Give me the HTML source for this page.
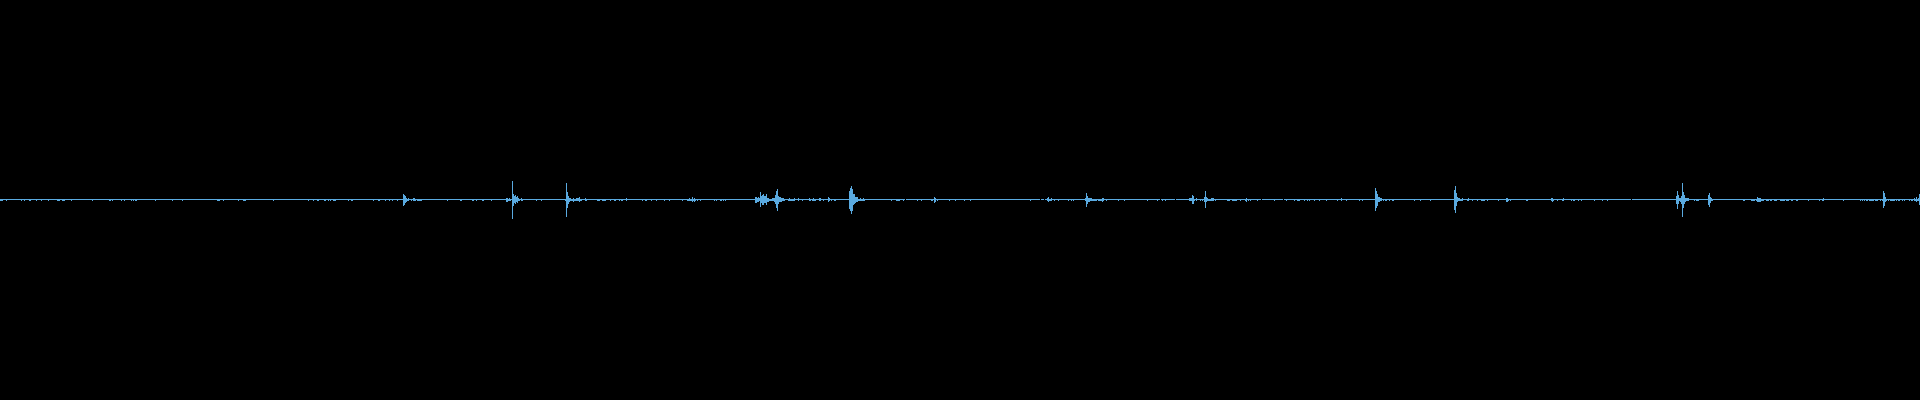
<!DOCTYPE html>
<html><head><meta charset="utf-8"><style>
html,body{margin:0;padding:0;background:#000;width:1920px;height:400px;overflow:hidden}
svg{display:block}
</style></head><body>
<svg width="1920" height="400" viewBox="0 0 1920 400" shape-rendering="crispEdges">
<g fill="#5aaae0">
<rect x="0" y="199" width="3" height="2"/>
<rect x="3" y="199" width="3" height="1"/>
<rect x="6" y="199" width="1" height="2"/>
<rect x="7" y="199" width="14" height="1"/>
<rect x="21" y="199" width="1" height="2"/>
<rect x="22" y="199" width="2" height="1"/>
<rect x="24" y="199" width="1" height="2"/>
<rect x="25" y="199" width="4" height="1"/>
<rect x="29" y="199" width="2" height="2"/>
<rect x="31" y="199" width="5" height="1"/>
<rect x="36" y="199" width="1" height="2"/>
<rect x="37" y="199" width="4" height="1"/>
<rect x="41" y="199" width="1" height="2"/>
<rect x="42" y="199" width="6" height="1"/>
<rect x="48" y="199" width="1" height="2"/>
<rect x="49" y="199" width="8" height="1"/>
<rect x="57" y="199" width="3" height="2"/>
<rect x="60" y="199" width="2" height="1"/>
<rect x="62" y="199" width="3" height="2"/>
<rect x="65" y="199" width="6" height="1"/>
<rect x="71" y="199" width="1" height="2"/>
<rect x="72" y="199" width="20" height="1"/>
<rect x="92" y="199" width="1" height="2"/>
<rect x="93" y="199" width="16" height="1"/>
<rect x="109" y="199" width="2" height="2"/>
<rect x="111" y="199" width="1" height="1"/>
<rect x="112" y="199" width="1" height="2"/>
<rect x="113" y="199" width="8" height="1"/>
<rect x="121" y="199" width="1" height="2"/>
<rect x="122" y="199" width="2" height="1"/>
<rect x="124" y="199" width="1" height="2"/>
<rect x="125" y="199" width="6" height="1"/>
<rect x="131" y="199" width="1" height="2"/>
<rect x="132" y="199" width="1" height="1"/>
<rect x="133" y="199" width="1" height="2"/>
<rect x="134" y="199" width="1" height="1"/>
<rect x="135" y="199" width="2" height="2"/>
<rect x="137" y="199" width="18" height="1"/>
<rect x="155" y="199" width="1" height="2"/>
<rect x="156" y="199" width="16" height="1"/>
<rect x="172" y="199" width="1" height="2"/>
<rect x="173" y="199" width="9" height="1"/>
<rect x="182" y="199" width="1" height="2"/>
<rect x="183" y="199" width="34" height="1"/>
<rect x="217" y="199" width="3" height="2"/>
<rect x="220" y="199" width="3" height="1"/>
<rect x="223" y="199" width="1" height="2"/>
<rect x="224" y="199" width="14" height="1"/>
<rect x="238" y="199" width="1" height="2"/>
<rect x="239" y="199" width="4" height="1"/>
<rect x="243" y="199" width="3" height="2"/>
<rect x="246" y="199" width="27" height="1"/>
<rect x="273" y="199" width="1" height="2"/>
<rect x="274" y="199" width="34" height="1"/>
<rect x="308" y="199" width="1" height="2"/>
<rect x="309" y="199" width="4" height="1"/>
<rect x="313" y="199" width="1" height="2"/>
<rect x="314" y="199" width="3" height="1"/>
<rect x="317" y="199" width="2" height="2"/>
<rect x="319" y="199" width="5" height="1"/>
<rect x="324" y="199" width="2" height="2"/>
<rect x="326" y="199" width="2" height="1"/>
<rect x="328" y="199" width="1" height="2"/>
<rect x="329" y="199" width="1" height="1"/>
<rect x="330" y="199" width="1" height="2"/>
<rect x="331" y="199" width="2" height="1"/>
<rect x="333" y="199" width="3" height="2"/>
<rect x="336" y="199" width="12" height="1"/>
<rect x="348" y="199" width="1" height="2"/>
<rect x="349" y="199" width="2" height="1"/>
<rect x="351" y="199" width="2" height="2"/>
<rect x="353" y="199" width="20" height="1"/>
<rect x="373" y="199" width="1" height="2"/>
<rect x="374" y="199" width="4" height="1"/>
<rect x="378" y="199" width="2" height="2"/>
<rect x="380" y="199" width="5" height="1"/>
<rect x="385" y="199" width="1" height="2"/>
<rect x="386" y="199" width="3" height="1"/>
<rect x="389" y="199" width="1" height="2"/>
<rect x="390" y="199" width="2" height="1"/>
<rect x="392" y="199" width="1" height="2"/>
<rect x="393" y="199" width="4" height="1"/>
<rect x="397" y="199" width="1" height="2"/>
<rect x="398" y="199" width="5" height="1"/>
<rect x="403" y="194" width="1" height="12"/>
<rect x="404" y="195" width="1" height="10"/>
<rect x="405" y="196" width="1" height="7"/>
<rect x="406" y="198" width="1" height="4"/>
<rect x="407" y="199" width="1" height="2"/>
<rect x="408" y="198" width="1" height="3"/>
<rect x="409" y="199" width="2" height="1"/>
<rect x="411" y="199" width="1" height="2"/>
<rect x="412" y="199" width="1" height="1"/>
<rect x="413" y="198" width="2" height="3"/>
<rect x="415" y="199" width="1" height="2"/>
<rect x="416" y="199" width="1" height="1"/>
<rect x="417" y="199" width="5" height="2"/>
<rect x="422" y="199" width="25" height="1"/>
<rect x="447" y="199" width="1" height="2"/>
<rect x="448" y="199" width="12" height="1"/>
<rect x="460" y="199" width="2" height="2"/>
<rect x="462" y="199" width="10" height="1"/>
<rect x="472" y="199" width="2" height="2"/>
<rect x="474" y="199" width="2" height="1"/>
<rect x="476" y="199" width="1" height="2"/>
<rect x="477" y="199" width="5" height="1"/>
<rect x="482" y="199" width="2" height="2"/>
<rect x="484" y="199" width="7" height="1"/>
<rect x="491" y="199" width="1" height="2"/>
<rect x="492" y="199" width="14" height="1"/>
<rect x="506" y="198" width="2" height="4"/>
<rect x="508" y="199" width="1" height="2"/>
<rect x="509" y="198" width="1" height="3"/>
<rect x="510" y="199" width="1" height="2"/>
<rect x="511" y="199" width="1" height="1"/>
<rect x="512" y="181" width="1" height="38"/>
<rect x="513" y="194" width="1" height="12"/>
<rect x="514" y="196" width="1" height="7"/>
<rect x="515" y="195" width="1" height="9"/>
<rect x="516" y="197" width="1" height="5"/>
<rect x="517" y="196" width="1" height="7"/>
<rect x="518" y="198" width="1" height="3"/>
<rect x="519" y="199" width="1" height="2"/>
<rect x="520" y="199" width="1" height="1"/>
<rect x="521" y="198" width="1" height="3"/>
<rect x="522" y="199" width="1" height="2"/>
<rect x="523" y="199" width="13" height="1"/>
<rect x="536" y="199" width="1" height="2"/>
<rect x="537" y="199" width="4" height="1"/>
<rect x="541" y="199" width="1" height="2"/>
<rect x="542" y="199" width="23" height="1"/>
<rect x="565" y="199" width="1" height="2"/>
<rect x="566" y="183" width="1" height="34"/>
<rect x="567" y="192" width="1" height="16"/>
<rect x="568" y="196" width="1" height="8"/>
<rect x="569" y="198" width="1" height="4"/>
<rect x="570" y="198" width="1" height="3"/>
<rect x="571" y="199" width="2" height="2"/>
<rect x="573" y="198" width="1" height="4"/>
<rect x="574" y="199" width="2" height="2"/>
<rect x="576" y="198" width="3" height="3"/>
<rect x="579" y="197" width="1" height="5"/>
<rect x="580" y="199" width="2" height="2"/>
<rect x="582" y="199" width="3" height="1"/>
<rect x="585" y="198" width="1" height="3"/>
<rect x="586" y="199" width="1" height="2"/>
<rect x="587" y="199" width="10" height="1"/>
<rect x="597" y="199" width="3" height="2"/>
<rect x="600" y="199" width="2" height="1"/>
<rect x="602" y="199" width="4" height="2"/>
<rect x="606" y="199" width="4" height="1"/>
<rect x="610" y="199" width="1" height="2"/>
<rect x="611" y="199" width="3" height="1"/>
<rect x="614" y="199" width="2" height="2"/>
<rect x="616" y="199" width="3" height="1"/>
<rect x="619" y="199" width="1" height="2"/>
<rect x="620" y="199" width="1" height="1"/>
<rect x="621" y="199" width="2" height="2"/>
<rect x="623" y="199" width="3" height="1"/>
<rect x="626" y="198" width="1" height="3"/>
<rect x="627" y="199" width="15" height="1"/>
<rect x="642" y="199" width="1" height="2"/>
<rect x="643" y="199" width="2" height="1"/>
<rect x="645" y="199" width="2" height="2"/>
<rect x="647" y="199" width="4" height="1"/>
<rect x="651" y="199" width="1" height="2"/>
<rect x="652" y="199" width="4" height="1"/>
<rect x="656" y="199" width="1" height="2"/>
<rect x="657" y="199" width="7" height="1"/>
<rect x="664" y="199" width="1" height="2"/>
<rect x="665" y="199" width="4" height="1"/>
<rect x="669" y="199" width="1" height="2"/>
<rect x="670" y="199" width="12" height="1"/>
<rect x="682" y="199" width="1" height="2"/>
<rect x="683" y="199" width="4" height="1"/>
<rect x="687" y="199" width="2" height="2"/>
<rect x="689" y="198" width="1" height="3"/>
<rect x="690" y="199" width="2" height="2"/>
<rect x="692" y="197" width="1" height="5"/>
<rect x="693" y="199" width="1" height="2"/>
<rect x="694" y="198" width="1" height="4"/>
<rect x="695" y="199" width="1" height="2"/>
<rect x="696" y="199" width="1" height="1"/>
<rect x="697" y="199" width="1" height="2"/>
<rect x="698" y="199" width="2" height="1"/>
<rect x="700" y="199" width="1" height="2"/>
<rect x="701" y="199" width="13" height="1"/>
<rect x="714" y="199" width="1" height="2"/>
<rect x="715" y="199" width="1" height="1"/>
<rect x="716" y="199" width="1" height="2"/>
<rect x="717" y="199" width="3" height="1"/>
<rect x="720" y="199" width="2" height="2"/>
<rect x="722" y="199" width="1" height="1"/>
<rect x="723" y="199" width="1" height="2"/>
<rect x="724" y="199" width="1" height="1"/>
<rect x="725" y="199" width="1" height="2"/>
<rect x="726" y="199" width="29" height="1"/>
<rect x="755" y="197" width="2" height="6"/>
<rect x="757" y="198" width="1" height="4"/>
<rect x="758" y="197" width="1" height="5"/>
<rect x="759" y="198" width="1" height="3"/>
<rect x="760" y="192" width="1" height="15"/>
<rect x="761" y="196" width="1" height="7"/>
<rect x="762" y="195" width="1" height="10"/>
<rect x="763" y="194" width="1" height="11"/>
<rect x="764" y="196" width="2" height="7"/>
<rect x="766" y="194" width="1" height="11"/>
<rect x="767" y="198" width="2" height="4"/>
<rect x="769" y="199" width="3" height="2"/>
<rect x="772" y="198" width="2" height="3"/>
<rect x="774" y="198" width="1" height="4"/>
<rect x="775" y="195" width="1" height="9"/>
<rect x="776" y="191" width="1" height="17"/>
<rect x="777" y="189" width="1" height="22"/>
<rect x="778" y="196" width="1" height="8"/>
<rect x="779" y="197" width="2" height="5"/>
<rect x="781" y="198" width="1" height="4"/>
<rect x="782" y="198" width="2" height="3"/>
<rect x="784" y="199" width="1" height="2"/>
<rect x="785" y="199" width="3" height="1"/>
<rect x="788" y="199" width="1" height="2"/>
<rect x="789" y="198" width="1" height="3"/>
<rect x="790" y="199" width="4" height="2"/>
<rect x="794" y="198" width="1" height="3"/>
<rect x="795" y="199" width="3" height="1"/>
<rect x="798" y="198" width="1" height="3"/>
<rect x="799" y="199" width="3" height="1"/>
<rect x="802" y="199" width="1" height="2"/>
<rect x="803" y="199" width="6" height="1"/>
<rect x="809" y="198" width="1" height="3"/>
<rect x="810" y="199" width="1" height="2"/>
<rect x="811" y="199" width="1" height="1"/>
<rect x="812" y="199" width="1" height="2"/>
<rect x="813" y="198" width="1" height="3"/>
<rect x="814" y="199" width="2" height="2"/>
<rect x="816" y="199" width="3" height="1"/>
<rect x="819" y="198" width="2" height="3"/>
<rect x="821" y="199" width="2" height="1"/>
<rect x="823" y="199" width="1" height="2"/>
<rect x="824" y="199" width="4" height="1"/>
<rect x="828" y="197" width="1" height="5"/>
<rect x="829" y="198" width="1" height="3"/>
<rect x="830" y="199" width="1" height="1"/>
<rect x="831" y="199" width="1" height="2"/>
<rect x="832" y="199" width="2" height="1"/>
<rect x="834" y="199" width="2" height="2"/>
<rect x="836" y="199" width="13" height="1"/>
<rect x="849" y="191" width="1" height="18"/>
<rect x="850" y="188" width="1" height="23"/>
<rect x="851" y="186" width="1" height="28"/>
<rect x="852" y="189" width="1" height="22"/>
<rect x="853" y="194" width="1" height="11"/>
<rect x="854" y="194" width="1" height="10"/>
<rect x="855" y="197" width="1" height="6"/>
<rect x="856" y="197" width="2" height="5"/>
<rect x="858" y="199" width="2" height="2"/>
<rect x="860" y="198" width="1" height="3"/>
<rect x="861" y="199" width="2" height="2"/>
<rect x="863" y="198" width="1" height="3"/>
<rect x="864" y="199" width="1" height="2"/>
<rect x="865" y="199" width="26" height="1"/>
<rect x="891" y="199" width="1" height="2"/>
<rect x="892" y="199" width="4" height="1"/>
<rect x="896" y="199" width="4" height="2"/>
<rect x="900" y="199" width="3" height="1"/>
<rect x="903" y="199" width="1" height="2"/>
<rect x="904" y="199" width="1" height="1"/>
<rect x="906" y="199" width="11" height="1"/>
<rect x="917" y="199" width="1" height="2"/>
<rect x="918" y="199" width="3" height="1"/>
<rect x="921" y="199" width="1" height="2"/>
<rect x="922" y="199" width="9" height="1"/>
<rect x="931" y="199" width="2" height="2"/>
<rect x="933" y="199" width="1" height="1"/>
<rect x="934" y="197" width="1" height="6"/>
<rect x="935" y="198" width="1" height="4"/>
<rect x="936" y="199" width="1" height="1"/>
<rect x="937" y="199" width="1" height="2"/>
<rect x="938" y="199" width="11" height="1"/>
<rect x="949" y="199" width="1" height="2"/>
<rect x="950" y="199" width="5" height="1"/>
<rect x="955" y="199" width="1" height="2"/>
<rect x="956" y="199" width="8" height="1"/>
<rect x="964" y="199" width="1" height="2"/>
<rect x="965" y="199" width="5" height="1"/>
<rect x="970" y="199" width="1" height="2"/>
<rect x="971" y="199" width="59" height="1"/>
<rect x="1030" y="199" width="1" height="2"/>
<rect x="1031" y="199" width="9" height="1"/>
<rect x="1041" y="199" width="3" height="1"/>
<rect x="1045" y="199" width="2" height="1"/>
<rect x="1047" y="198" width="1" height="3"/>
<rect x="1048" y="197" width="1" height="5"/>
<rect x="1049" y="199" width="2" height="2"/>
<rect x="1051" y="198" width="1" height="3"/>
<rect x="1052" y="199" width="2" height="1"/>
<rect x="1054" y="199" width="1" height="2"/>
<rect x="1055" y="199" width="3" height="1"/>
<rect x="1058" y="199" width="1" height="2"/>
<rect x="1059" y="199" width="9" height="1"/>
<rect x="1068" y="199" width="1" height="2"/>
<rect x="1069" y="199" width="2" height="1"/>
<rect x="1071" y="199" width="1" height="2"/>
<rect x="1072" y="199" width="1" height="1"/>
<rect x="1073" y="199" width="1" height="2"/>
<rect x="1074" y="199" width="11" height="1"/>
<rect x="1085" y="198" width="1" height="3"/>
<rect x="1086" y="193" width="1" height="14"/>
<rect x="1087" y="196" width="1" height="8"/>
<rect x="1088" y="198" width="2" height="4"/>
<rect x="1090" y="198" width="2" height="3"/>
<rect x="1092" y="199" width="5" height="2"/>
<rect x="1097" y="199" width="1" height="1"/>
<rect x="1098" y="199" width="4" height="2"/>
<rect x="1102" y="198" width="1" height="4"/>
<rect x="1103" y="198" width="1" height="3"/>
<rect x="1104" y="199" width="2" height="1"/>
<rect x="1106" y="199" width="1" height="2"/>
<rect x="1107" y="199" width="11" height="1"/>
<rect x="1118" y="199" width="1" height="2"/>
<rect x="1119" y="199" width="5" height="1"/>
<rect x="1124" y="199" width="1" height="2"/>
<rect x="1125" y="199" width="22" height="1"/>
<rect x="1147" y="199" width="1" height="2"/>
<rect x="1148" y="199" width="9" height="1"/>
<rect x="1157" y="199" width="1" height="2"/>
<rect x="1158" y="199" width="2" height="1"/>
<rect x="1161" y="199" width="1" height="1"/>
<rect x="1162" y="199" width="1" height="2"/>
<rect x="1163" y="199" width="2" height="1"/>
<rect x="1165" y="199" width="1" height="2"/>
<rect x="1166" y="199" width="9" height="1"/>
<rect x="1176" y="199" width="13" height="1"/>
<rect x="1189" y="198" width="3" height="3"/>
<rect x="1192" y="195" width="1" height="9"/>
<rect x="1193" y="196" width="1" height="8"/>
<rect x="1194" y="199" width="1" height="2"/>
<rect x="1195" y="199" width="1" height="1"/>
<rect x="1196" y="198" width="1" height="3"/>
<rect x="1197" y="199" width="3" height="1"/>
<rect x="1200" y="199" width="1" height="2"/>
<rect x="1201" y="199" width="1" height="1"/>
<rect x="1202" y="199" width="1" height="2"/>
<rect x="1203" y="199" width="1" height="1"/>
<rect x="1204" y="197" width="1" height="5"/>
<rect x="1205" y="191" width="1" height="17"/>
<rect x="1206" y="197" width="1" height="5"/>
<rect x="1207" y="198" width="1" height="3"/>
<rect x="1208" y="199" width="3" height="2"/>
<rect x="1211" y="198" width="3" height="3"/>
<rect x="1214" y="199" width="1" height="1"/>
<rect x="1215" y="199" width="1" height="2"/>
<rect x="1216" y="199" width="11" height="1"/>
<rect x="1227" y="199" width="3" height="2"/>
<rect x="1230" y="199" width="2" height="1"/>
<rect x="1232" y="199" width="5" height="2"/>
<rect x="1237" y="199" width="3" height="1"/>
<rect x="1240" y="199" width="1" height="2"/>
<rect x="1241" y="199" width="4" height="1"/>
<rect x="1245" y="199" width="1" height="2"/>
<rect x="1246" y="198" width="1" height="4"/>
<rect x="1247" y="199" width="1" height="1"/>
<rect x="1248" y="199" width="1" height="2"/>
<rect x="1249" y="199" width="1" height="1"/>
<rect x="1250" y="199" width="1" height="2"/>
<rect x="1251" y="199" width="6" height="1"/>
<rect x="1257" y="199" width="1" height="2"/>
<rect x="1258" y="199" width="3" height="1"/>
<rect x="1262" y="199" width="12" height="1"/>
<rect x="1274" y="199" width="1" height="2"/>
<rect x="1275" y="199" width="8" height="1"/>
<rect x="1284" y="199" width="2" height="1"/>
<rect x="1286" y="199" width="1" height="2"/>
<rect x="1287" y="199" width="7" height="1"/>
<rect x="1294" y="199" width="1" height="2"/>
<rect x="1295" y="199" width="2" height="1"/>
<rect x="1297" y="199" width="3" height="2"/>
<rect x="1300" y="199" width="4" height="1"/>
<rect x="1304" y="199" width="1" height="2"/>
<rect x="1305" y="199" width="2" height="1"/>
<rect x="1307" y="199" width="1" height="2"/>
<rect x="1308" y="199" width="1" height="1"/>
<rect x="1309" y="199" width="1" height="2"/>
<rect x="1310" y="199" width="4" height="1"/>
<rect x="1314" y="199" width="1" height="2"/>
<rect x="1315" y="199" width="4" height="1"/>
<rect x="1319" y="199" width="1" height="2"/>
<rect x="1320" y="199" width="6" height="1"/>
<rect x="1326" y="199" width="1" height="2"/>
<rect x="1327" y="199" width="10" height="1"/>
<rect x="1337" y="199" width="1" height="2"/>
<rect x="1338" y="199" width="3" height="1"/>
<rect x="1341" y="198" width="1" height="3"/>
<rect x="1342" y="199" width="4" height="1"/>
<rect x="1346" y="199" width="1" height="2"/>
<rect x="1347" y="199" width="12" height="1"/>
<rect x="1359" y="199" width="1" height="2"/>
<rect x="1360" y="199" width="2" height="1"/>
<rect x="1362" y="199" width="1" height="2"/>
<rect x="1363" y="199" width="12" height="1"/>
<rect x="1375" y="188" width="1" height="23"/>
<rect x="1376" y="191" width="1" height="17"/>
<rect x="1377" y="194" width="1" height="12"/>
<rect x="1378" y="197" width="2" height="5"/>
<rect x="1380" y="198" width="2" height="3"/>
<rect x="1382" y="199" width="1" height="1"/>
<rect x="1383" y="199" width="1" height="2"/>
<rect x="1384" y="199" width="1" height="1"/>
<rect x="1385" y="199" width="2" height="2"/>
<rect x="1387" y="199" width="2" height="1"/>
<rect x="1389" y="199" width="1" height="2"/>
<rect x="1390" y="199" width="2" height="1"/>
<rect x="1392" y="199" width="2" height="2"/>
<rect x="1394" y="199" width="20" height="1"/>
<rect x="1414" y="199" width="1" height="2"/>
<rect x="1415" y="199" width="5" height="1"/>
<rect x="1420" y="199" width="1" height="2"/>
<rect x="1421" y="199" width="9" height="1"/>
<rect x="1430" y="199" width="1" height="2"/>
<rect x="1431" y="199" width="23" height="1"/>
<rect x="1454" y="190" width="1" height="20"/>
<rect x="1455" y="186" width="1" height="27"/>
<rect x="1456" y="193" width="1" height="13"/>
<rect x="1457" y="197" width="1" height="5"/>
<rect x="1458" y="198" width="2" height="3"/>
<rect x="1460" y="199" width="2" height="2"/>
<rect x="1462" y="198" width="1" height="3"/>
<rect x="1463" y="199" width="4" height="1"/>
<rect x="1467" y="199" width="1" height="2"/>
<rect x="1468" y="198" width="1" height="3"/>
<rect x="1469" y="199" width="3" height="1"/>
<rect x="1472" y="199" width="1" height="2"/>
<rect x="1473" y="199" width="4" height="1"/>
<rect x="1477" y="199" width="1" height="2"/>
<rect x="1478" y="199" width="3" height="1"/>
<rect x="1481" y="199" width="4" height="2"/>
<rect x="1485" y="199" width="2" height="1"/>
<rect x="1487" y="199" width="1" height="2"/>
<rect x="1488" y="199" width="10" height="1"/>
<rect x="1498" y="199" width="1" height="2"/>
<rect x="1499" y="199" width="7" height="1"/>
<rect x="1506" y="198" width="2" height="4"/>
<rect x="1508" y="199" width="1" height="2"/>
<rect x="1509" y="199" width="1" height="1"/>
<rect x="1510" y="199" width="1" height="2"/>
<rect x="1511" y="199" width="15" height="1"/>
<rect x="1526" y="199" width="2" height="2"/>
<rect x="1528" y="199" width="23" height="1"/>
<rect x="1551" y="198" width="1" height="3"/>
<rect x="1552" y="198" width="1" height="4"/>
<rect x="1553" y="199" width="1" height="2"/>
<rect x="1554" y="199" width="3" height="1"/>
<rect x="1557" y="199" width="1" height="2"/>
<rect x="1558" y="199" width="4" height="1"/>
<rect x="1562" y="199" width="1" height="2"/>
<rect x="1563" y="198" width="1" height="3"/>
<rect x="1564" y="199" width="7" height="1"/>
<rect x="1571" y="199" width="1" height="2"/>
<rect x="1572" y="199" width="1" height="1"/>
<rect x="1573" y="199" width="2" height="2"/>
<rect x="1575" y="199" width="3" height="1"/>
<rect x="1578" y="199" width="1" height="2"/>
<rect x="1579" y="199" width="2" height="1"/>
<rect x="1581" y="199" width="1" height="2"/>
<rect x="1582" y="199" width="12" height="1"/>
<rect x="1594" y="199" width="1" height="2"/>
<rect x="1595" y="199" width="7" height="1"/>
<rect x="1602" y="199" width="1" height="2"/>
<rect x="1603" y="199" width="4" height="1"/>
<rect x="1607" y="199" width="1" height="2"/>
<rect x="1608" y="199" width="23" height="1"/>
<rect x="1632" y="199" width="44" height="1"/>
<rect x="1676" y="196" width="1" height="8"/>
<rect x="1677" y="191" width="1" height="18"/>
<rect x="1678" y="195" width="1" height="9"/>
<rect x="1679" y="198" width="1" height="3"/>
<rect x="1680" y="198" width="1" height="4"/>
<rect x="1681" y="196" width="1" height="8"/>
<rect x="1682" y="183" width="1" height="34"/>
<rect x="1683" y="192" width="1" height="16"/>
<rect x="1684" y="195" width="1" height="9"/>
<rect x="1685" y="198" width="1" height="4"/>
<rect x="1686" y="198" width="3" height="3"/>
<rect x="1689" y="199" width="5" height="1"/>
<rect x="1694" y="199" width="1" height="2"/>
<rect x="1695" y="199" width="1" height="1"/>
<rect x="1696" y="199" width="3" height="2"/>
<rect x="1699" y="199" width="9" height="1"/>
<rect x="1708" y="195" width="1" height="10"/>
<rect x="1709" y="193" width="1" height="14"/>
<rect x="1710" y="197" width="1" height="6"/>
<rect x="1711" y="198" width="1" height="3"/>
<rect x="1712" y="199" width="1" height="2"/>
<rect x="1713" y="199" width="30" height="1"/>
<rect x="1743" y="199" width="2" height="2"/>
<rect x="1745" y="199" width="6" height="1"/>
<rect x="1751" y="199" width="4" height="2"/>
<rect x="1755" y="199" width="1" height="1"/>
<rect x="1756" y="199" width="1" height="2"/>
<rect x="1757" y="197" width="1" height="5"/>
<rect x="1758" y="198" width="3" height="4"/>
<rect x="1761" y="199" width="3" height="2"/>
<rect x="1764" y="199" width="2" height="1"/>
<rect x="1766" y="199" width="3" height="2"/>
<rect x="1769" y="199" width="1" height="1"/>
<rect x="1770" y="199" width="2" height="2"/>
<rect x="1772" y="199" width="2" height="1"/>
<rect x="1774" y="199" width="3" height="2"/>
<rect x="1777" y="199" width="3" height="1"/>
<rect x="1780" y="199" width="5" height="2"/>
<rect x="1785" y="199" width="1" height="1"/>
<rect x="1786" y="199" width="3" height="2"/>
<rect x="1789" y="199" width="2" height="1"/>
<rect x="1791" y="199" width="2" height="2"/>
<rect x="1793" y="199" width="3" height="1"/>
<rect x="1796" y="199" width="2" height="2"/>
<rect x="1798" y="199" width="10" height="1"/>
<rect x="1808" y="199" width="1" height="2"/>
<rect x="1809" y="199" width="10" height="1"/>
<rect x="1819" y="199" width="1" height="2"/>
<rect x="1820" y="199" width="2" height="1"/>
<rect x="1822" y="199" width="1" height="2"/>
<rect x="1823" y="198" width="1" height="3"/>
<rect x="1824" y="199" width="19" height="1"/>
<rect x="1843" y="199" width="1" height="2"/>
<rect x="1844" y="199" width="16" height="1"/>
<rect x="1860" y="199" width="1" height="2"/>
<rect x="1861" y="199" width="1" height="1"/>
<rect x="1862" y="199" width="1" height="2"/>
<rect x="1863" y="199" width="1" height="1"/>
<rect x="1864" y="199" width="1" height="2"/>
<rect x="1865" y="199" width="1" height="1"/>
<rect x="1866" y="199" width="2" height="2"/>
<rect x="1868" y="199" width="1" height="1"/>
<rect x="1869" y="199" width="5" height="2"/>
<rect x="1874" y="199" width="1" height="1"/>
<rect x="1875" y="199" width="3" height="2"/>
<rect x="1878" y="199" width="2" height="1"/>
<rect x="1880" y="199" width="1" height="2"/>
<rect x="1881" y="199" width="1" height="1"/>
<rect x="1882" y="199" width="1" height="2"/>
<rect x="1883" y="191" width="1" height="17"/>
<rect x="1884" y="193" width="1" height="13"/>
<rect x="1885" y="197" width="1" height="5"/>
<rect x="1886" y="199" width="1" height="2"/>
<rect x="1887" y="199" width="1" height="1"/>
<rect x="1888" y="199" width="1" height="2"/>
<rect x="1889" y="199" width="1" height="1"/>
<rect x="1890" y="199" width="5" height="2"/>
<rect x="1895" y="199" width="1" height="1"/>
<rect x="1896" y="199" width="1" height="2"/>
<rect x="1897" y="199" width="1" height="1"/>
<rect x="1898" y="199" width="2" height="2"/>
<rect x="1900" y="199" width="2" height="1"/>
<rect x="1902" y="199" width="1" height="2"/>
<rect x="1903" y="199" width="1" height="1"/>
<rect x="1904" y="199" width="1" height="2"/>
<rect x="1905" y="199" width="4" height="1"/>
<rect x="1909" y="199" width="1" height="2"/>
<rect x="1910" y="199" width="1" height="1"/>
<rect x="1911" y="199" width="2" height="2"/>
<rect x="1913" y="199" width="1" height="1"/>
<rect x="1914" y="198" width="1" height="3"/>
<rect x="1915" y="199" width="1" height="2"/>
<rect x="1916" y="197" width="1" height="5"/>
<rect x="1917" y="199" width="1" height="2"/>
<rect x="1918" y="198" width="1" height="3"/>
<rect x="1919" y="194" width="1" height="11"/>
</g></svg>
</body></html>
